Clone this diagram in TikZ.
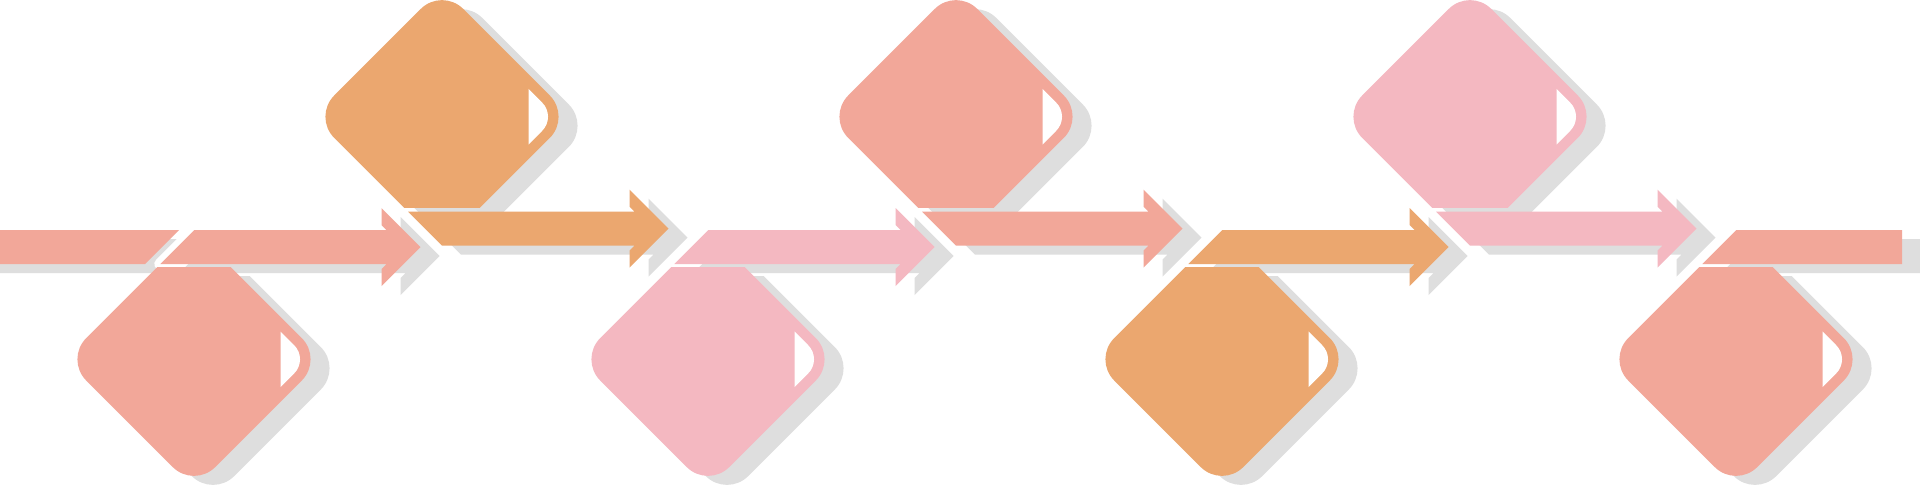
\documentclass[tikz,border=0pt]{standalone}
\definecolor{cSalmon}{HTML}{F2A799}
\definecolor{cOrange}{HTML}{EBA76F}
\definecolor{cPink}{HTML}{F4B8C1}
\definecolor{cShadow}{HTML}{DEDEDE}
\tikzset{
  barrow/.style={insert path={({#1+0.3},230) -- ({#1+192.5},230) -- ({#1+187.5},225) -- ({#1+187.5},208) -- ({#1+226.5},247) -- ({#1+187.5},286) -- ({#1+187.5},269) -- ({#1+192.5},264) -- ({#1-33.7},264) -- cycle}},
  tarrow/.style={insert path={({#1-34},211.7) -- ({#1+192.5},211.7) -- ({#1+187.5},206.7) -- ({#1+187.5},189.7) -- ({#1+226.5},228.7) -- ({#1+187.5},267.7) -- ({#1+187.5},250.7) -- ({#1+192.5},245.7) -- (#1,245.7) -- cycle}},
  bdia/.style={insert path={({#1-129},359.3) -- (#1,230.3) -- ({#1+129},359.3) -- (#1,488.3) -- cycle}},
  tdia/.style={insert path={({#1-129},116.7) -- (#1,-12.3) -- ({#1+129},116.7) -- (#1,245.7) -- cycle}},
  gapline/.style={draw=white, line width=12pt, line join=round},
  roundd/.style={rounded corners=30pt},
  shadowshift/.style={shift={(19,9)}},
}
% white tab at the right corner of a diamond: #1 = cx, #2 = cy
\newcommand\cornertab[2]{%
  \begin{scope}
    \clip ({#1+86.5},{#2-40}) rectangle ({#1+130},{#2+40});
    \fill[white, rounded corners=20pt] ({#1-114.3},#2) -- (#1,{#2-114.3}) -- ({#1+114.3},#2) -- (#1,{#2+114.3}) -- cycle;
  \end{scope}}
% bottom diamond (cut at top) with its arrow
\newcommand\bottomunit[2]{%
  \path[gapline][barrow=#1];
  \begin{scope}[shadowshift]
    \fill[cShadow][barrow=#1];
    \begin{scope}
      \clip ({#1-140},267.5) rectangle ({#1+140},520);
      \fill[cShadow, roundd][bdia=#1];
    \end{scope}
  \end{scope}
  \fill[#2][barrow=#1];
  \begin{scope}
    \clip ({#1-140},267.5) rectangle ({#1+140},520);
    \fill[#2, roundd][bdia=#1];
  \end{scope}
  \cornertab{#1}{359.3}}
% top diamond (cut at bottom) with its arrow
\newcommand\topunit[2]{%
  \path[gapline][tarrow=#1];
  \begin{scope}[shadowshift]
    \fill[cShadow][tarrow=#1];
    \begin{scope}
      \clip ({#1-140},-30) rectangle ({#1+140},207);
      \fill[cShadow, roundd][tdia=#1];
    \end{scope}
  \end{scope}
  \fill[#2][tarrow=#1];
  \begin{scope}
    \clip ({#1-140},-30) rectangle ({#1+140},207);
    \fill[#2, roundd][tdia=#1];
  \end{scope}
  \cornertab{#1}{116.7}}
\begin{document}
\begin{tikzpicture}[x=1pt,y=-1pt]
\useasboundingbox (0,0) rectangle (1920,485);
\clip (0,0) rectangle (1920,485);
\fill[white] (0,0) rectangle (1920,485);
% leading bar
\fill[cShadow, shadowshift] (-40,230) -- (179,230) -- (145,264) -- (-40,264) -- cycle;
\fill[cSalmon] (-40,230) -- (179,230) -- (145,264) -- (-40,264) -- cycle;
% units
\bottomunit{194}{cSalmon}
\topunit{442}{cOrange}
\bottomunit{708}{cPink}
\topunit{956}{cSalmon}
\bottomunit{1222}{cOrange}
\topunit{1470}{cPink}
% last unit: diamond and plain bar
\path[gapline] (1736.3,230) -- (1902,230) -- (1902,264) -- (1702.3,264) -- cycle;
\begin{scope}[shadowshift]
  \fill[cShadow] (1736.3,230) -- (1902,230) -- (1902,264) -- (1702.3,264) -- cycle;
  \begin{scope}
    \clip (1596,267.5) rectangle (1876,520);
    \fill[cShadow, roundd][bdia=1736];
  \end{scope}
\end{scope}
\fill[cSalmon] (1736.3,230) -- (1902,230) -- (1902,264) -- (1702.3,264) -- cycle;
\begin{scope}
  \clip (1596,267.5) rectangle (1876,520);
  \fill[cSalmon, roundd][bdia=1736];
\end{scope}
\cornertab{1736}{359.3}
\end{tikzpicture}
\end{document}
